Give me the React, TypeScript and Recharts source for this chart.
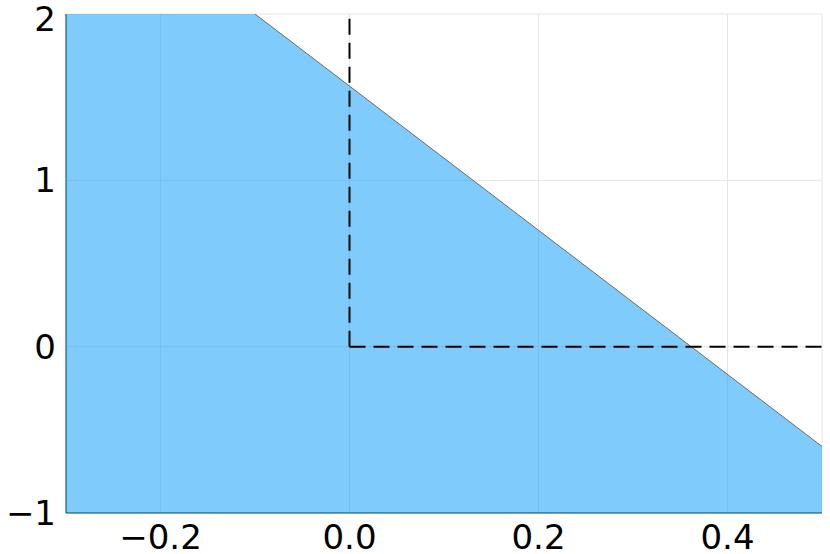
import { ComposedChart, Area, Line, XAxis, YAxis, CartesianGrid } from 'recharts';

// feasible region (shaded below the boundary line)
const regionX = [-0.3, -0.1, 0.5];
const regionY = [2, 2, -0.6];

// boundary of the region
const boundaryX = [-0.1, 0.5];
const boundaryY = [2, -0.6];

// dashed guide lines
const verticalX = [0, 0];
const verticalY = [0, 2];
const horizontalX = [0, 0.5];
const horizontalY = [0, 0];

const xTicks = [-0.2, 0, 0.2, 0.4];
const yTicks = [-1, 0, 1, 2];

const toPoints = (xs: number[], ys: number[]) => xs.map((x, i) => ({ x, y: ys[i] }));

const fmtX = (v: number) => (v < 0 ? '\u2212' : '') + Math.abs(v).toFixed(1);
const fmtY = (v: number) => (v < 0 ? '\u2212' : '') + Math.abs(v).toString();

const tickStyle = {
  fontFamily: "'DejaVu Sans', sans-serif",
  fontSize: 34,
  fill: '#000',
};

export default function App() {
  const region = toPoints(regionX, regionY);
  const boundary = toPoints(boundaryX, boundaryY);
  const vertical = toPoints(verticalX, verticalY);
  const horizontal = toPoints(horizontalX, horizontalY);

  return (
    <div style={{ position: 'fixed', left: 0, top: 0, background: '#fff' }}>
      <ComposedChart
        width={830}
        height={554}
        data={region}
        margin={{ top: 14, right: 8, left: 0, bottom: 0 }}
      >
        <CartesianGrid stroke="#e6e6e6" strokeWidth={1} />
        <XAxis
          type="number"
          dataKey="x"
          domain={[-0.3, 0.5]}
          ticks={xTicks}
          tickFormatter={fmtX}
          allowDataOverflow
          height={41}
          tickSize={0}
          tickMargin={12}
          stroke="#004D7D"
          tick={tickStyle}
        />
        <YAxis
          type="number"
          dataKey="y"
          domain={[-1, 2]}
          ticks={yTicks}
          tickFormatter={fmtY}
          allowDataOverflow
          width={66}
          tickSize={0}
          tickMargin={10}
          stroke="#004D7D"
          tick={tickStyle}
        />
        <Area
          type="linear"
          dataKey="y"
          baseValue={-1}
          fill="#009AFA"
          fillOpacity={0.5}
          stroke="none"
          isAnimationActive={false}
        />
        <Line
          data={boundary}
          type="linear"
          dataKey="y"
          stroke="#6b6b6b"
          strokeWidth={1}
          dot={false}
          isAnimationActive={false}
        />
        <Line
          data={vertical}
          type="linear"
          dataKey="y"
          stroke="#000"
          strokeWidth={2}
          strokeDasharray="16 8"
          dot={false}
          isAnimationActive={false}
        />
        <Line
          data={horizontal}
          type="linear"
          dataKey="y"
          stroke="#000"
          strokeWidth={2}
          strokeDasharray="16 8"
          dot={false}
          isAnimationActive={false}
        />
      </ComposedChart>
    </div>
  );
}
